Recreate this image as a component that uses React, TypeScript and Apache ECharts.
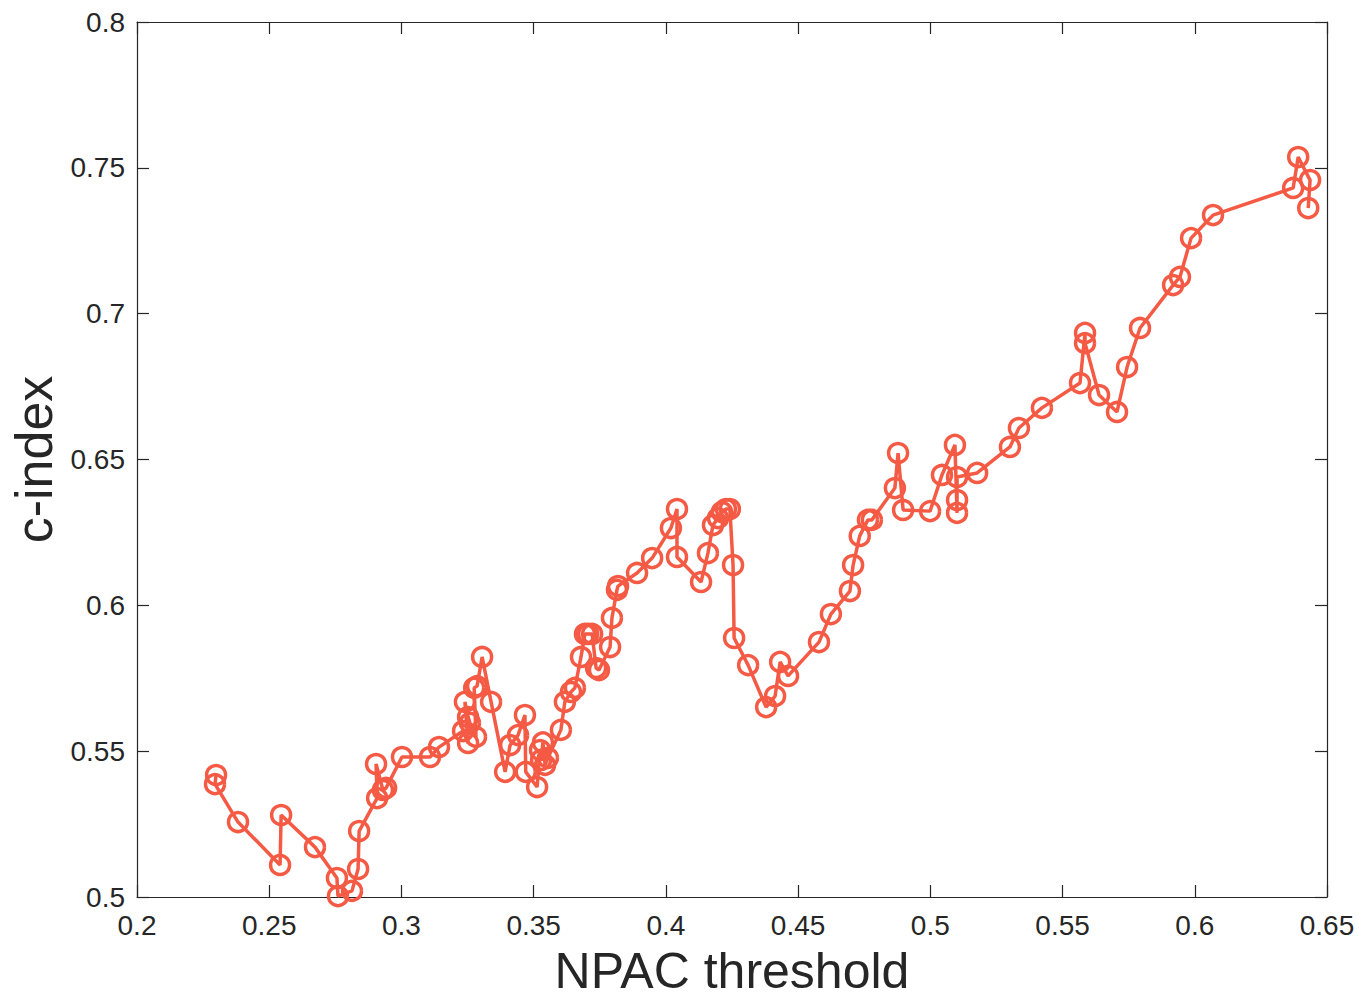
import React, { useEffect, useRef } from "react";
import * as echarts from "echarts";

const xTicks = { min: 0.2, max: 0.65, interval: 0.05 };
const yTicks = { min: 0.5, max: 0.8, interval: 0.05 };

const npacThreshold: number[] = [
  0.2299, 0.2295, 0.2382, 0.2541, 0.2545, 0.2673, 0.2756, 0.2760, 0.2813, 0.2836,
  0.2840, 0.2908, 0.2904, 0.2930, 0.2942, 0.3002, 0.3108, 0.3142, 0.3233, 0.3252,
  0.3240, 0.3252, 0.3259, 0.3282, 0.3275, 0.3286, 0.3305, 0.3339, 0.3392, 0.3411,
  0.3441, 0.3467, 0.3470, 0.3513, 0.3524, 0.3528, 0.3535, 0.3543, 0.3554, 0.3603,
  0.3618, 0.3641, 0.3656, 0.3679, 0.3694, 0.3706, 0.3721, 0.3736, 0.3747, 0.3789,
  0.3796, 0.3815, 0.3819, 0.3891, 0.3948, 0.4019, 0.4042, 0.4042, 0.4133, 0.4159,
  0.4178, 0.4197, 0.4212, 0.4227, 0.4242, 0.4254, 0.4258, 0.4311, 0.4379, 0.4413,
  0.4432, 0.4462, 0.4579, 0.4624, 0.4696, 0.4708, 0.4733, 0.4764, 0.4779, 0.4866,
  0.4878, 0.4897, 0.4999, 0.5044, 0.5093, 0.5101, 0.5101, 0.5101, 0.5177, 0.5301,
  0.5335, 0.5422, 0.5566, 0.5585, 0.5585, 0.5638, 0.5706, 0.5744, 0.5793, 0.5918,
  0.5944, 0.5986, 0.6069, 0.6372, 0.6391, 0.6436, 0.6429,
];

const cIndex: number[] = [
  0.5418, 0.5387, 0.5257, 0.5110, 0.5281, 0.5171, 0.5065, 0.5003, 0.5021, 0.5096,
  0.5226, 0.5339, 0.5456, 0.5367, 0.5374, 0.5480, 0.5480, 0.5514, 0.5569, 0.5528,
  0.5669, 0.5617, 0.5597, 0.5549, 0.5717, 0.5723, 0.5823, 0.5669, 0.5429, 0.5521,
  0.5555, 0.5624, 0.5429, 0.5377, 0.5504, 0.5470, 0.5530, 0.5453, 0.5477, 0.5573,
  0.5669, 0.5703, 0.5717, 0.5823, 0.5902, 0.5902, 0.5902, 0.5785, 0.5778, 0.5857,
  0.5957, 0.6053, 0.6066, 0.6111, 0.6162, 0.6265, 0.6330, 0.6166, 0.6080, 0.6179,
  0.6275, 0.6299, 0.6320, 0.6330, 0.6330, 0.6138, 0.5888, 0.5795, 0.5651, 0.5689,
  0.5806, 0.5758, 0.5874, 0.5970, 0.6049, 0.6138, 0.6238, 0.6293, 0.6293, 0.6402,
  0.6522, 0.6327, 0.6323, 0.6447, 0.6550, 0.6317, 0.6361, 0.6440, 0.6454, 0.6543,
  0.6608, 0.6677, 0.6762, 0.6934, 0.6899, 0.6721, 0.6663, 0.6817, 0.6951, 0.7098,
  0.7126, 0.7259, 0.7338, 0.7431, 0.7537, 0.7458, 0.7362,
];

const xTitle = "NPAC threshold";
const yTitle = "c-index";

const LINE_COLOR = "#F55A45";
const TEXT_COLOR = "#262626";
const FONT = "'Liberation Sans', Arial, Helvetica, sans-serif";

export default function App() {
  const ref = useRef<HTMLDivElement>(null);

  useEffect(() => {
    if (!ref.current) return;
    const chart = echarts.init(ref.current, undefined, { renderer: "svg" });
    const data = npacThreshold.map((x, i) => [x, cIndex[i]]);

    const fmt = (v: number) => String(parseFloat(v.toFixed(4)));

    const baseAxis = {
      axisLine: { show: true, lineStyle: { color: TEXT_COLOR, width: 1.2 } },
      axisTick: { show: true, inside: true, length: 12, lineStyle: { color: TEXT_COLOR, width: 1.2 } },
      splitLine: { show: false },
    };

    chart.setOption({
      animation: false,
      backgroundColor: "#ffffff",
      grid: {
        left: 137,
        right: 32,
        top: 22,
        bottom: 103,
        containLabel: false,
        outerBoundsMode: "none",
      },
      xAxis: [
        {
          type: "value",
          ...xTicks,
          position: "bottom",
          ...baseAxis,
          axisLabel: {
            show: true,
            color: TEXT_COLOR,
            fontFamily: FONT,
            fontSize: 28,
            margin: 14,
            formatter: fmt,
          },
          name: xTitle,
          nameLocation: "middle",
          nameGap: 51,
          nameTextStyle: { color: TEXT_COLOR, fontFamily: FONT, fontSize: 50, lineHeight: 46 },
        },
        {
          type: "value",
          ...xTicks,
          position: "top",
          ...baseAxis,
          axisLabel: { show: false },
        },
      ],
      yAxis: [
        {
          type: "value",
          ...yTicks,
          position: "left",
          ...baseAxis,
          axisLabel: {
            show: true,
            color: TEXT_COLOR,
            fontFamily: FONT,
            fontSize: 28,
            margin: 12,
            formatter: fmt,
          },
          name: yTitle,
          nameLocation: "middle",
          nameGap: 66,
          nameRotate: 90,
          nameTextStyle: { color: TEXT_COLOR, fontFamily: FONT, fontSize: 52 },
        },
        {
          type: "value",
          ...yTicks,
          position: "right",
          ...baseAxis,
          axisLabel: { show: false },
        },
      ],
      series: [
        {
          type: "line",
          xAxisIndex: 0,
          yAxisIndex: 0,
          data,
          symbol: "circle",
          symbolSize: 19,
          showSymbol: true,
          showAllSymbol: true,
          lineStyle: { color: LINE_COLOR, width: 3.5 },
          itemStyle: { color: "rgba(255,255,255,0)", borderColor: LINE_COLOR, borderWidth: 3.5 },
          emphasis: { disabled: true },
        },
      ],
    });

    return () => chart.dispose();
  }, []);

  return (
    <div
      ref={ref}
      style={{ position: "fixed", left: 0, top: 0, width: 1359, height: 1000, background: "#fff" }}
    />
  );
}
